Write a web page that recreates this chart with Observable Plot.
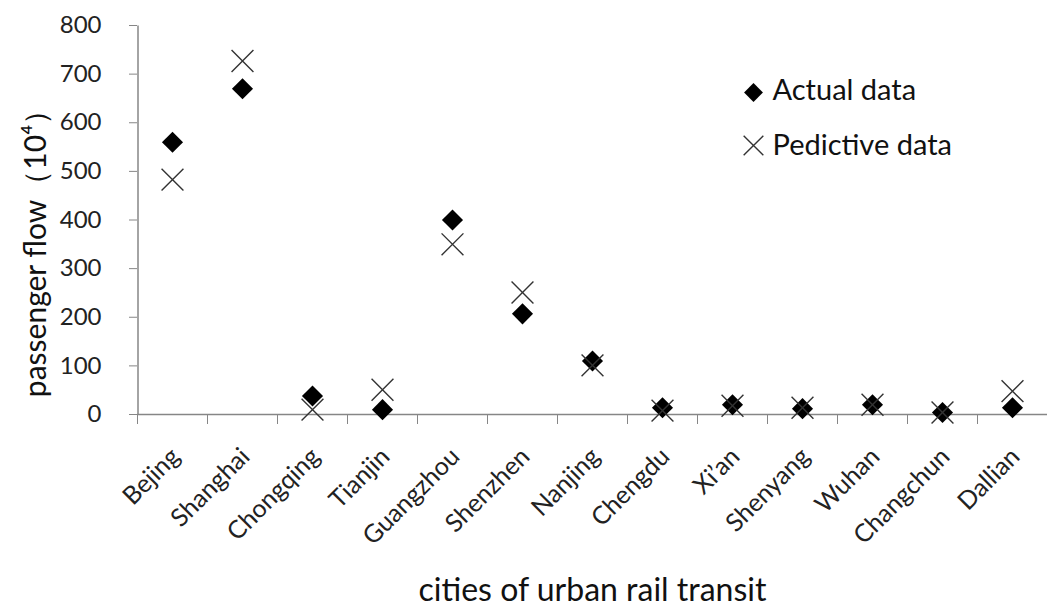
<!DOCTYPE html>
<html><head><meta charset="utf-8">
<script src="https://cdn.jsdelivr.net/npm/d3@7"></script>
<script src="https://cdn.jsdelivr.net/npm/@observablehq/plot@0.6"></script>
<style>body{margin:0;background:#fff}#chart svg{font-family:Lato,"Noto Sans",sans-serif}</style>
</head><body><div id="chart"></div>
<script>
const cities = ["Bejing","Shanghai","Chongqing","Tianjin","Guangzhou","Shenzhen","Nanjing","Chengdu","Xi’an","Shenyang","Wuhan","Changchun","Dallian"];
const actual = [560,670,38,10,400,207,110,14,20,12,20,4,14];
const predicted = [483,727,10,51,350,251,101,8,18,14,20,4,48];
const yTicks = [0,100,200,300,400,500,600,700,800];
const seriesNames = ["Actual data","Pedictive data"];
const yTitle = "passenger flow（10⁴）";
const xTitle = "cities of urban rail transit";

const rows = cities.map((c,i)=>({city:c, actual:actual[i], predicted:predicted[i]}));
const axisGray = "#868686";
const yExtent = [yTicks[0], yTicks[yTicks.length - 1]];

const chart = Plot.plot({
  width: 1047, height: 610,
  marginLeft: 137, marginRight: 0, marginTop: 25, marginBottom: 196,
  x: {type: "band", domain: cities, padding: 0, label: null},
  y: {domain: yExtent, label: null},
  style: {fontFamily: "Lato, 'Noto Sans', sans-serif", background: "#fff"},
  marks: [
    Plot.ruleY([0], {stroke: axisGray, strokeWidth: 1.5}),
    Plot.link([cities[0]], {x1: d => d, x2: d => d, y1: () => yExtent[0], y2: () => yExtent[1], dx: -34.5, stroke: axisGray, strokeWidth: 1.5}),
    Plot.axisY({ticks: yTicks, tickSize: 8, tickFormat: () => "", stroke: axisGray, label: null}),
    Plot.axisY({ticks: yTicks, tickSize: 0, tickPadding: 36, fontSize: 24, fill: "#222", label: null}),
    Plot.axisX({tickSize: 10, tickFormat: () => "", dx: -35, stroke: axisGray, label: null}),
    Plot.text(cities, {x: d => d, y: 0, rotate: -45, textAnchor: "end", lineAnchor: "middle", dx: 3, dy: 38, fontSize: 25, fill: "#222"}),
    Plot.dot(rows, {x: "city", y: "actual", symbol: "diamond2", r: 9.5, fill: "#000", stroke: "none"}),
    Plot.dot(rows, {x: "city", y: "predicted", symbol: "times", r: 10, stroke: "#333", strokeWidth: 1.4, fill: "none"}),
    Plot.text([yTitle], {frameAnchor: "left", rotate: -90, textAnchor: "middle", lineAnchor: "middle", dx: -101, dy: 26, fontSize: 30, fill: "#111"}),
    Plot.text([xTitle], {frameAnchor: "bottom", textAnchor: "middle", lineAnchor: "middle", dy: 176, fontSize: 32, fill: "#111"}),
    Plot.dot([seriesNames[0]], {frameAnchor: "top-left", dx: 616, dy: 67, symbol: "diamond2", r: 8.5, fill: "#000"}),
    Plot.dot([seriesNames[1]], {frameAnchor: "top-left", dx: 616, dy: 120, symbol: "times", r: 9, stroke: "#333", strokeWidth: 1.4}),
    Plot.text([seriesNames[0]], {frameAnchor: "top-left", dx: 635, dy: 65, textAnchor: "start", lineAnchor: "middle", fontSize: 29, fill: "#111"}),
    Plot.text([seriesNames[1]], {frameAnchor: "top-left", dx: 635, dy: 120, textAnchor: "start", lineAnchor: "middle", fontSize: 29, fill: "#111"})
  ]
});
document.getElementById("chart").appendChild(chart);
</script>
</body></html>
